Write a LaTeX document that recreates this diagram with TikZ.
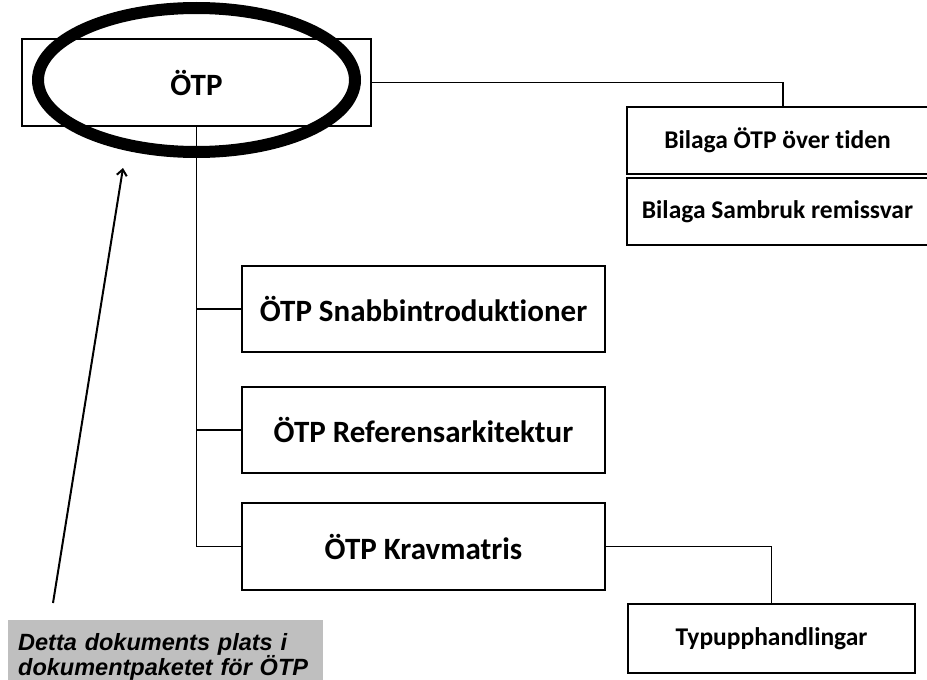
\documentclass[tikz,border=0pt]{standalone}
\usepackage{fontspec}
\setmainfont[Ligatures=NoCommon,Contextuals=NoAlternate]{Carlito}
\newfontfamily\arialfont{Liberation Sans}
\usetikzlibrary{arrows.meta}
\begin{document}
\begin{tikzpicture}[x=1pt,y=-1pt,
  box/.style={draw=black,line width=1.5pt,inner sep=0pt,outer sep=0pt,fill=white},
  bigbox/.style={box,minimum width=363pt,minimum height=86pt,font=\fontsize{31}{36}\selectfont\bfseries},
  smallbox/.style={box,font=\fontsize{25.5}{30}\selectfont\bfseries},
  conn/.style={line width=1.5pt,draw=black},
  ptr/.style={line width=2pt,-{Straight Barb[length=6pt,width=10pt,line width=2pt]}}]
\clip (0,0) rectangle (927,680);
\fill[white] (0,0) rectangle (927,680);
% top box
\node[box,minimum width=349pt,minimum height=87pt] (top) at (196.5,82.5) {};
\draw[line width=12pt] (196.5,80) ellipse [x radius=158.5pt,y radius=72pt];
\node[font=\fontsize{31}{36}\selectfont\bfseries] (toptext) at (196.5,82.5) {ÖTP};
% right boxes
\node[smallbox,minimum width=301pt,minimum height=67pt] (bil1) at (777.5,140.5) {Bilaga ÖTP över tiden};
\node[smallbox,minimum width=301pt,minimum height=67pt] (bil2) at (777.5,211.5) {Bilaga Sambruk remissvar};
% middle boxes
\node[bigbox] (snab) at (423.5,309) {ÖTP Snabbintroduktioner};
\node[bigbox] (ref) at (423.5,430) {ÖTP Referensarkitektur};
\node[bigbox,minimum height=87pt] (krav) at (423.5,546.5) {ÖTP Kravmatris};
\node[smallbox,minimum width=287pt,minimum height=69pt] (typ) at (771.5,638.5) {Typupphandlingar};
% connectors
\draw[conn] (top.east) -| ([xshift=5.5pt]bil1.north);
\draw[conn] (top.south) |- (krav.west);
\draw[conn] (snab.west) -- (snab.west -| top.south);
\draw[conn] (ref.west) -- (ref.west -| top.south);
\draw[conn] (krav.east) -| (typ.north);
% label
\node[anchor=north west,fill=black!25,inner xsep=10pt,inner ysep=13.5pt,
  text width=295pt,align=left,font=\arialfont\bfseries\itshape\fontsize{23.5}{25}\selectfont] (lab) at (8,620)
  {Detta dokuments plats i\\dokumentpaketet för ÖTP};
\coordinate (arrS) at (53,603);
\coordinate (arrE) at (123,168);
\draw[ptr] (arrS) -- (arrE);
\end{tikzpicture}
\end{document}
